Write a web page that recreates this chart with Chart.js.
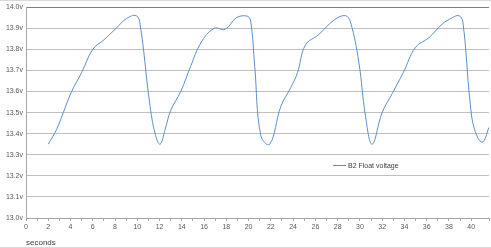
<!DOCTYPE html>
<html><head><meta charset="utf-8">
<script src="https://cdn.jsdelivr.net/npm/chart.js@4/dist/chart.umd.min.js"></script>
<style>
html,body{margin:0;padding:0;background:#fff;}
#wrap{position:relative;width:491px;height:248px;}
#legend{position:absolute;left:333px;top:162px;font:7px "Liberation Sans",Arial,sans-serif;color:#404040;display:flex;align-items:center;white-space:nowrap;}
#legend span.sw{display:inline-block;width:13px;height:1px;background:#5E8FCB;margin-right:2px;}
</style></head>
<body><div id="wrap"><canvas id="c" width="491" height="248"></canvas>
<div id="legend"><span class="sw"></span><span>B2 Float voltage</span></div></div>
<script>
const seconds = [2,2.75,3.35,4.1,5,6,7,8.1,9,9.9,10.25,11.1,11.6,12.05,12.5,13,13.9,14.8,15.7,16.9,17.9,18.9,19.9,20.2,20.55,21.1,21.9,22.9,23.8,24.4,25.1,26.3,27.7,28.7,29.15,29.9,30.5,31.1,32,32.9,33.9,35,36.2,37.4,38.3,38.9,39.25,39.9,40.3,41,41.6,42];
const voltage = [13.35,13.42,13.50,13.60,13.69,13.80,13.845,13.90,13.945,13.96,13.92,13.55,13.40,13.35,13.42,13.51,13.60,13.72,13.83,13.90,13.895,13.95,13.957,13.93,13.72,13.39,13.35,13.53,13.62,13.69,13.82,13.87,13.94,13.96,13.93,13.74,13.485,13.35,13.50,13.59,13.69,13.81,13.855,13.92,13.95,13.96,13.93,13.55,13.42,13.36,13.43,13.48];
const seriesName = 'B2 Float voltage';
const xTitle = 'seconds';

const pts = seconds.map((s,i)=>({x:s,y:voltage[i]}));
const frame = {id:'frame',afterDraw(ch){const c=ch.ctx;c.save();c.strokeStyle='#d9d9d9';c.lineWidth=1;c.beginPath();c.moveTo(0,0.5);c.lineTo(491,0.5);c.moveTo(0,247.5);c.lineTo(491,247.5);c.stroke();c.restore();}};
const font = {family:'"Liberation Sans", Arial, sans-serif',size:7};
new Chart(document.getElementById('c'),{
  type:'line',
  data:{datasets:[{label:seriesName,data:pts,borderColor:'#5E8FCB',borderWidth:1,pointRadius:0,tension:0.4,fill:false}]},
  options:{responsive:false,animation:false,
    layout:{padding:{top:6,right:0,left:0,bottom:0}},
    plugins:{legend:{display:false},tooltip:{enabled:false}},
    scales:{
      x:{type:'linear',min:0,max:41.6,
        afterFit(s){s.height=30;},
        ticks:{stepSize:1,autoSkip:false,maxRotation:0,color:'#595959',font:font,padding:2,
          callback:(v)=> (Math.abs(v-Math.round(v))<1e-6 && Math.round(v)%2===0 ? String(Math.round(v)) : '')},
        grid:{drawOnChartArea:false,drawTicks:true,tickLength:3,color:'#a6a6a6'},
        border:{color:'#a6a6a6'},
        title:{display:true,text:xTitle,align:'start',color:'#404040',font:{family:font.family,size:8},padding:{top:0,bottom:0}}
      },
      y:{min:13.0,max:14.0,
        afterFit(s){s.width=26;},
        ticks:{stepSize:0.1,color:'#595959',font:font,padding:3,callback:(v)=>Number(v).toFixed(1)+'v'},
        grid:{color:(ctx)=> (ctx.tick && Math.abs(ctx.tick.value-14)<1e-6 ? '#7f7f7f' : '#bfbfbf'),drawTicks:false,lineWidth:1},
        border:{color:'#a6a6a6'}
      }
    }
  },
  plugins:[frame]
});
</script></body></html>
